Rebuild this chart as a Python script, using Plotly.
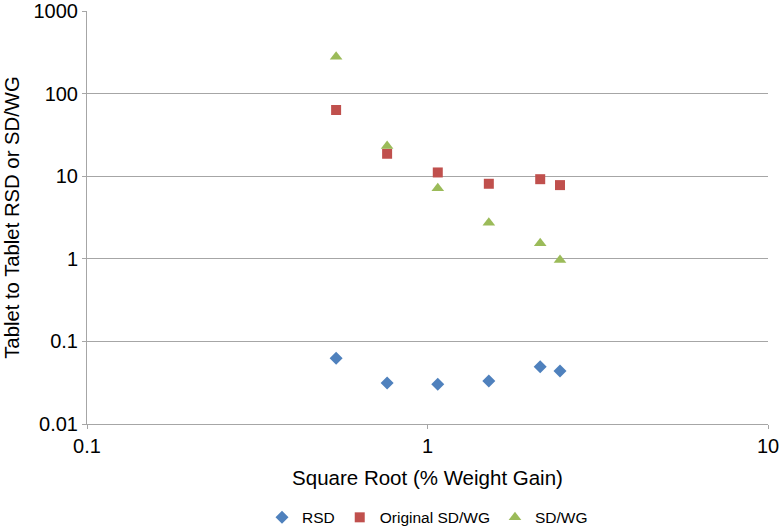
import plotly.graph_objects as go

# square root of % weight gain
sqrt_wg = [0.539, 0.761, 1.072, 1.514, 2.143, 2.45]

rsd = [0.0624, 0.0313, 0.0302, 0.0332, 0.0494, 0.0438]
original_sd_wg = [63.3, 18.7, 11.1, 8.1, 9.2, 7.8]
sd_wg = [280, 23.2, 7.13, 2.73, 1.54, 0.97]

font = "Liberation Sans, Arial, sans-serif"

fig = go.Figure()
fig.add_trace(go.Scatter(x=sqrt_wg, y=rsd, mode="markers", name="RSD",
                         marker=dict(symbol="diamond", size=10, color="#4F81BD")))
fig.add_trace(go.Scatter(x=sqrt_wg, y=original_sd_wg, mode="markers", name="Original SD/WG",
                         marker=dict(symbol="square", size=10, color="#C0504D")))
fig.add_trace(go.Scatter(x=sqrt_wg, y=sd_wg, mode="markers", name="SD/WG",
                         marker=dict(symbol="triangle-up", size=11, color="#9BBB59")))

fig.update_layout(
    width=780, height=527,
    margin=dict(l=87, r=12, t=11, b=103, autoexpand=False),
    plot_bgcolor="white", paper_bgcolor="white",
    font=dict(family=font, size=20, color="black"),
    legend=dict(orientation="h", x=0.5, xanchor="center", y=-0.227, yanchor="middle",
                font=dict(size=15.5), itemwidth=30, traceorder="normal"),
    xaxis=dict(type="log", range=[-1, 1], tickvals=[0.1, 1, 10], ticktext=["0.1", "1", "10"],
               showgrid=False, showline=True, linecolor="#a6a6a6", linewidth=1,
               ticks="outside", ticklen=4, tickcolor="#a6a6a6", tickfont=dict(size=20),
               title=dict(text="Square Root (% Weight Gain)", font=dict(size=20.5), standoff=14),
               zeroline=False, automargin=False),
    yaxis=dict(type="log", range=[-2, 3], tickvals=[0.01, 0.1, 1, 10, 100, 1000],
               ticktext=["0.01", "0.1", "1", "10", "100", "1000"],
               showgrid=True, gridcolor="#a6a6a6", gridwidth=1,
               showline=True, linecolor="#a6a6a6", linewidth=1,
               ticks="outside", ticklen=4, tickcolor="#a6a6a6", tickfont=dict(size=20),
               title=dict(text="Tablet to Tablet RSD or SD/WG", font=dict(size=20.3), standoff=8),
               zeroline=False, automargin=False),
)

fig.write_html("out.html", config={"displayModeBar": False},
               post_script="document.body.style.margin='0px';")
